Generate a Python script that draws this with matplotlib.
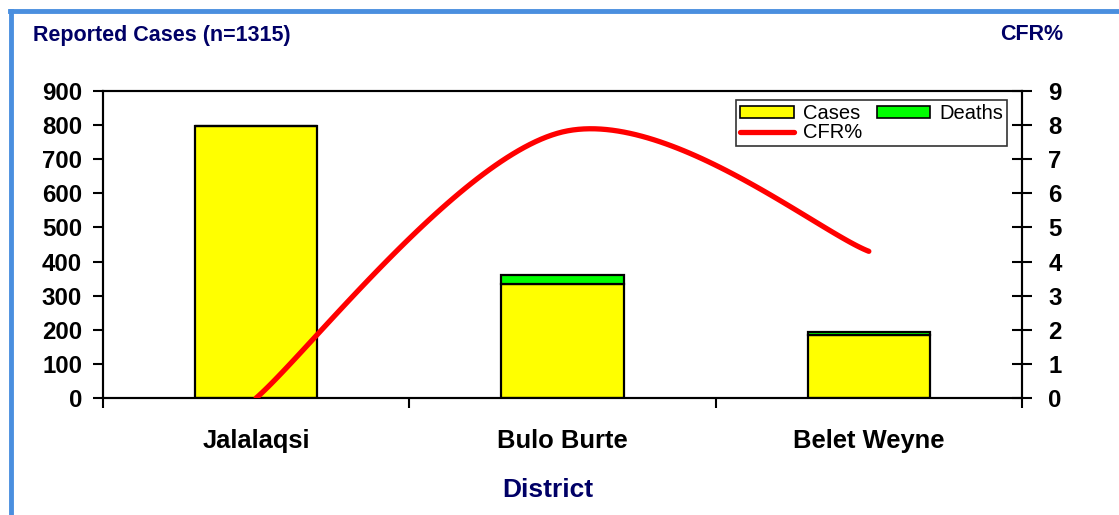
import numpy as np
import matplotlib.pyplot as plt
from matplotlib.lines import Line2D
from matplotlib.patches import Patch

plt.rcParams['font.family'] = ['Liberation Sans', 'DejaVu Sans']

districts = ['Jalalaqsi', 'Bulo Burte', 'Belet Weyne']
cases = [796, 333, 186]
deaths = [0, 29, 8]
cfr = [0.0, 7.8, 4.3]

navy = '#000066'


def excel_smooth(xs, ys, n=60):
    # bezier smoothing like a spreadsheet "smoothed line"
    pts = np.column_stack([xs, ys]).astype(float)
    out = []
    for i in range(len(pts) - 1):
        p0 = pts[max(i - 1, 0)]
        p1 = pts[i]
        p2 = pts[i + 1]
        p3 = pts[min(i + 2, len(pts) - 1)]
        c1 = p1 + (p2 - p0) / 6
        c2 = p2 - (p3 - p1) / 6
        t = np.linspace(0, 1, n)[:, None]
        seg = ((1 - t) ** 3) * p1 + 3 * ((1 - t) ** 2) * t * c1 \
            + 3 * (1 - t) * t ** 2 * c2 + t ** 3 * p2
        out.append(seg if i == 0 else seg[1:])
    seg = np.vstack(out)
    return seg[:, 0], seg[:, 1]


fig = plt.figure(figsize=(11.19, 5.15), dpi=100)
ax = fig.add_axes([103 / 1119, 117 / 515, 919 / 1119, 307 / 515])
ax2 = ax.twinx()

x = np.arange(len(districts))
ax.bar(x, cases, width=0.40, color='#ffff00', edgecolor='black', linewidth=1.6, zorder=2)
ax.bar(x, deaths, width=0.40, bottom=cases, color='#00ff00', edgecolor='black',
       linewidth=1.6, zorder=2)

sx, sy = excel_smooth(x, cfr)
ax2.plot(sx, sy, color='#ff0000', linewidth=3.8, solid_capstyle='round', zorder=3)

ax.set_xlim(-0.5, 2.5)
ax.set_ylim(0, 900)
ax2.set_ylim(0, 9)
ax.set_yticks(np.arange(0, 901, 100))
ax2.set_yticks(np.arange(0, 10, 1))

ax.set_xticks([-0.5, 0.5, 1.5, 2.5])
ax.set_xticklabels([])
ax.set_xticks(x, minor=True)
ax.set_xticklabels(districts, minor=True, fontsize=18.4, fontweight='bold')
ax.tick_params(axis='x', which='major', direction='out', length=7, width=1.5)
ax.tick_params(axis='x', which='minor', length=0, pad=22)
ax.tick_params(axis='y', direction='out', length=7, width=1.5, pad=8,
               labelsize=17.3)
ax2.tick_params(axis='y', direction='inout', length=14, width=1.5, pad=12,
                labelsize=17.3)
for lab in ax.get_yticklabels() + ax2.get_yticklabels():
    lab.set_fontweight('bold')

for a in (ax, ax2):
    for s in a.spines.values():
        s.set_linewidth(1.5)

handles = [Patch(facecolor='#ffff00', edgecolor='black', linewidth=1.2),
           Line2D([0], [0], color='#ff0000', linewidth=3.8, solid_capstyle='round'),
           Patch(facecolor='#00ff00', edgecolor='black', linewidth=1.2)]
labels = ['Cases', 'CFR%', 'Deaths']
leg = ax2.legend(handles, labels, ncol=2, loc='upper right',
                 bbox_to_anchor=(0.984, 0.970), fontsize=14.5, frameon=True,
                 fancybox=False, edgecolor='black', borderpad=0.2,
                 labelspacing=0.0, handlelength=2.65, handleheight=0.5,
                 handletextpad=0.45, columnspacing=0.75, borderaxespad=0)
leg.get_frame().set_linewidth(1.2)

fig.text(33 / 1119, 1 - 35 / 515, 'Reported Cases (n=1315)', color=navy,
         fontsize=15.5, fontweight='bold', va='center', ha='left')
fig.text(1063 / 1119, 1 - 35 / 515, 'CFR%', color=navy,
         fontsize=15.5, fontweight='bold', va='center', ha='right')
fig.text(548 / 1119, 1 - 490 / 515, 'District', color=navy,
         fontsize=19, fontweight='bold', va='center', ha='center')

# blue frame on the left and top
fig.add_artist(Line2D([11 / 1119, 11 / 1119], [0, 1 - 11 / 515],
                      color='#4a8fdf', linewidth=3.5))
fig.add_artist(Line2D([9.5 / 1119, 1], [1 - 11 / 515, 1 - 11 / 515],
                      color='#4a8fdf', linewidth=3.5))

fig.savefig('out.png', dpi=100)
